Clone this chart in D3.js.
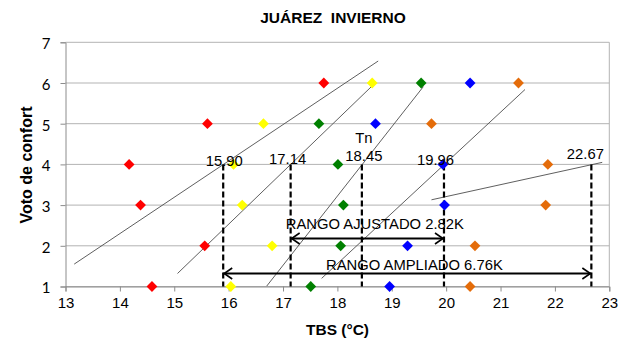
<!DOCTYPE html>
<html>
<head>
<meta charset="utf-8">
<script src="https://cdn.jsdelivr.net/npm/d3@7/dist/d3.min.js"></script>
<style>
  html, body { margin: 0; padding: 0; background: #fff; }
  svg { display: block; }
  text { font-family: "Liberation Sans", Arial, sans-serif; }
</style>
</head>
<body>
<svg id="chart" width="628" height="339"></svg>
<script>
// Comfort votes (1..6) and the dry-bulb temperature of each observation, per group
const votes = [1, 2, 3, 4, 5, 6];
const redTemps    = [14.59, 15.56, 14.38, 14.17, 15.61, 17.75];
const yellowTemps = [16.04, 16.80, 16.25, 16.09, 16.64, 18.64];
const greenTemps  = [17.51, 18.06, 18.11, 18.01, 17.66, 19.54];
const blueTemps   = [18.96, 19.29, 19.97, 19.94, 18.70, 20.44];
const orangeTemps = [20.44, 20.53, 21.83, 21.87, 19.73, 21.33];

// Trend line end points [x1, y1, x2, y2] for each group
const redTrend    = [13.16, 1.55, 18.75, 6.54];
const yellowTrend = [15.06, 1.32, 18.64, 5.93];
const greenTrend  = [16.70, 1.01, 19.58, 5.91];
const blueTrend   = [17.71, 1.20, 21.45, 5.84];
const orangeTrend = [19.73, 3.13, 22.87, 4.05];

// Temperatures where the trend lines cross vote 4
const markTemps  = [15.90, 17.14, 18.45, 19.96, 22.67];
const markLabels = ["15.90", "17.14", "18.45", "19.96", "22.67"];

// Comfort ranges
const rangeFrom   = [17.14, 15.90];
const rangeTo     = [19.96, 22.67];
const rangeLabels = ["RANGO AJUSTADO 2.82K", "RANGO AMPLIADO 6.76K"];

const xTicks = [13, 14, 15, 16, 17, 18, 19, 20, 21, 22, 23];
const yTicks = [1, 2, 3, 4, 5, 6, 7];

const series = [
  { temps: redTemps,    trend: redTrend,    color: "#ff0000" },
  { temps: yellowTemps, trend: yellowTrend, color: "#ffff00" },
  { temps: greenTemps,  trend: greenTrend,  color: "#008000" },
  { temps: blueTemps,   trend: blueTrend,   color: "#0000ff" },
  { temps: orangeTemps, trend: orangeTrend, color: "#e46c0a" }
];

const svg = d3.select("#chart");
const plot = { left: 65.5, right: 609.3, top: 42.3, bottom: 286.5 };

const x = d3.scaleLinear().domain([13, 23]).range([plot.left, plot.right]);
const y = d3.scaleLinear().domain([1, 7]).range([plot.bottom, plot.top]);

// Horizontal grid lines
svg.append("g")
  .selectAll("line")
  .data(yTicks)
  .join("line")
  .attr("x1", plot.left).attr("x2", plot.right)
  .attr("y1", d => y(d)).attr("y2", d => y(d))
  .attr("stroke", "#b3b3b3").attr("stroke-width", 1);

// Right edge of the plot area
svg.append("line")
  .attr("x1", plot.right).attr("x2", plot.right)
  .attr("y1", plot.top).attr("y2", plot.bottom)
  .attr("stroke", "#b3b3b3");

// Axes
const xAxis = svg.append("g")
  .attr("transform", `translate(0,${plot.bottom})`)
  .call(d3.axisBottom(x).tickValues(xTicks).tickSize(5).tickPadding(6).tickFormat(d3.format("d")));
xAxis.select(".domain").attr("stroke", "#8c8c8c");
xAxis.selectAll(".tick line").attr("stroke", "#8c8c8c");
xAxis.selectAll(".tick text")
  .attr("font-size", "15px").attr("fill", "#000")
  .style("font-family", "'Liberation Sans', Arial, sans-serif");

const yAxis = svg.append("g")
  .attr("transform", `translate(${plot.left},0)`)
  .call(d3.axisLeft(y).tickValues(yTicks).tickSize(5).tickPadding(10).tickFormat(d3.format("d")));
yAxis.select(".domain").attr("stroke", "#8c8c8c");
yAxis.selectAll(".tick line").attr("stroke", "#8c8c8c");
yAxis.selectAll(".tick text")
  .attr("font-size", "15px").attr("fill", "#000").attr("dy", "0.42em")
  .style("font-family", "Lato, 'Open Sans', sans-serif");

// Trend lines
svg.append("g")
  .selectAll("line")
  .data(series)
  .join("line")
  .attr("x1", d => x(d.trend[0])).attr("y1", d => y(d.trend[1]))
  .attr("x2", d => x(d.trend[2])).attr("y2", d => y(d.trend[3]))
  .attr("stroke", "#4d4d4d").attr("stroke-width", 0.9);

// Dashed verticals from vote 4 down to the axis
svg.append("g")
  .selectAll("line")
  .data(markTemps)
  .join("line")
  .attr("x1", d => x(d)).attr("x2", d => x(d))
  .attr("y1", y(4)).attr("y2", y(1))
  .attr("stroke", "#000").attr("stroke-width", 2.2)
  .attr("stroke-dasharray", "6,3");

// Range arrows with open heads at both ends
const rangeY = [2.18, 1.32];
const arrowG = svg.append("g");
rangeFrom.forEach((from, i) => {
  const x1 = x(from), x2 = x(rangeTo[i]), yy = y(rangeY[i]);
  arrowG.append("line")
    .attr("x1", x1).attr("x2", x2).attr("y1", yy).attr("y2", yy)
    .attr("stroke", "#000").attr("stroke-width", 2);
  arrowG.append("path")
    .attr("d", `M${x1 + 9},${yy - 5.5}L${x1 + 1},${yy}L${x1 + 9},${yy + 5.5}`)
    .attr("fill", "none").attr("stroke", "#000").attr("stroke-width", 1.6);
  arrowG.append("path")
    .attr("d", `M${x2 - 9},${yy - 5.5}L${x2 - 1},${yy}L${x2 - 9},${yy + 5.5}`)
    .attr("fill", "none").attr("stroke", "#000").attr("stroke-width", 1.6);
});

// Diamond markers
const diamond = "M0,-5.4L5.4,0L0,5.4L-5.4,0Z";
const ptG = svg.append("g");
series.forEach(s => {
  ptG.selectAll(null)
    .data(s.temps.map((t, i) => ({ t, v: votes[i] })))
    .join("path")
    .attr("d", diamond)
    .attr("transform", d => `translate(${x(d.t)},${y(d.v)})`)
    .attr("fill", s.color);
});

// Temperature labels above the dashed lines
const labelShift = [1, -3, 2, -8.5, -6];
const labelDrop  = [1.6, -0.4, -3.7, 0.6, -5.1];
svg.append("g")
  .selectAll("text")
  .data(markLabels)
  .join("text")
  .attr("x", (d, i) => x(markTemps[i]) + labelShift[i])
  .attr("y", (d, i) => y(4) + labelDrop[i])
  .attr("text-anchor", "middle")
  .attr("font-size", "14.8px")
  .attr("fill", "#000")
  .text(d => d);

svg.append("text")
  .attr("x", x(markTemps[2]) + 2)
  .attr("y", y(4) - 21)
  .attr("text-anchor", "middle")
  .attr("font-size", "14.8px")
  .text("Tn");

// Range captions
const rangeTextX = [17.05, 17.79];
const rangeTextY = [2.405, 1.405];
svg.append("g")
  .selectAll("text")
  .data(rangeLabels)
  .join("text")
  .attr("x", (d, i) => x(rangeTextX[i]))
  .attr("y", (d, i) => y(rangeTextY[i]))
  .attr("font-size", "14.8px")
  .attr("fill", "#000")
  .text(d => d);

// Title and axis titles
svg.append("text")
  .attr("x", 333).attr("y", 23.3)
  .attr("text-anchor", "middle")
  .attr("font-size", "15.5px").attr("font-weight", "bold")
  .style("white-space", "pre")
  .text("JUÁREZ  INVIERNO");

svg.append("text")
  .attr("x", 337.5).attr("y", 335)
  .attr("text-anchor", "middle")
  .attr("font-size", "15.5px").attr("font-weight", "bold")
  .text("TBS (°C)");

svg.append("text")
  .attr("transform", "translate(32,165) rotate(-90)")
  .attr("text-anchor", "middle")
  .attr("font-size", "16px").attr("font-weight", "bold")
  .text("Voto de confort");
</script>
</body>
</html>
